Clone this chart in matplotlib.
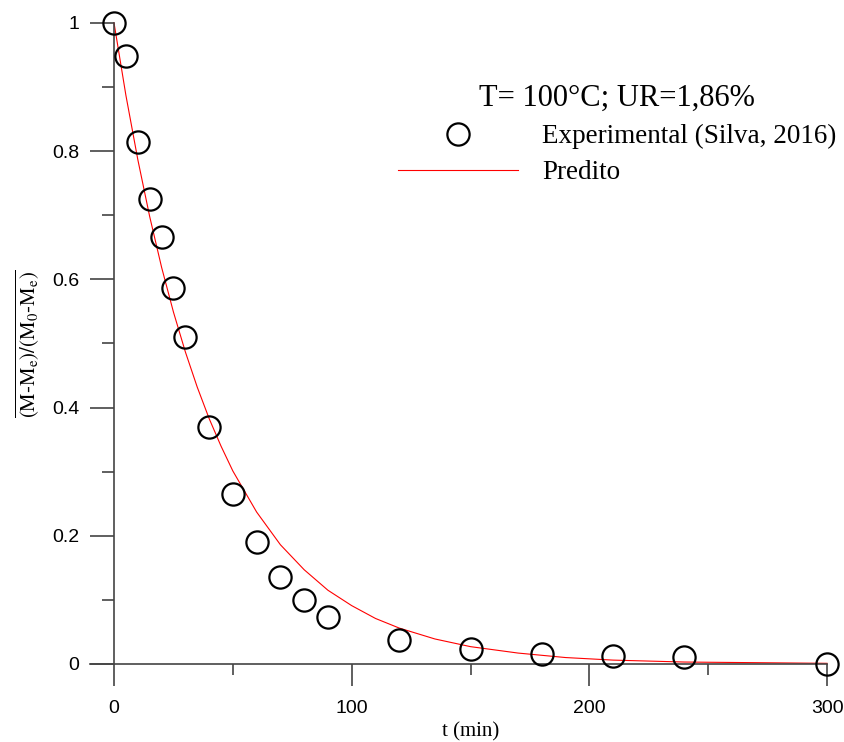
import matplotlib
matplotlib.use("Agg")
import matplotlib.pyplot as plt
from matplotlib.ticker import MultipleLocator

# experimental points (Silva, 2016)
t_exp = [0, 5, 10, 15, 20, 25, 30, 40, 50, 60, 70, 80, 90, 120, 150, 180, 210, 240, 300]
y_exp = [1.0, 0.948, 0.814, 0.725, 0.666, 0.587, 0.510, 0.370, 0.265, 0.190,
         0.136, 0.100, 0.073, 0.037, 0.023, 0.016, 0.012, 0.011, 0.0]

# predicted curve
t_pred = [0, 5, 10, 15, 20, 25, 30, 35, 40, 45, 50, 60, 70, 80, 90, 100, 110,
          120, 135, 150, 170, 190, 210, 240, 270, 300]
y_pred = [1.0, 0.887, 0.787, 0.698, 0.619, 0.549, 0.487, 0.432, 0.383, 0.340,
          0.301, 0.237, 0.186, 0.147, 0.115, 0.091, 0.071, 0.056, 0.039, 0.027,
          0.017, 0.010, 0.006, 0.003, 0.002, 0.001]

x_major = [0, 100, 200, 300]
y_major = [0, 0.2, 0.4, 0.6, 0.8, 1.0]

plt.rcParams['mathtext.fontset'] = 'stix'
serif = 'Liberation Serif'
sans = 'Liberation Sans'
axis_col = '#444444'

fig = plt.figure(figsize=(8.45, 7.42), dpi=100)
ax = fig.add_axes([0.1012, 0.0879, 0.8916, 0.8984])

pred_line, = ax.plot(t_pred, y_pred, color='red', lw=0.8, zorder=2)
exp_pts, = ax.plot(t_exp, y_exp, 'o', ms=16, mfc='none', mec='black', mew=1.6,
                   clip_on=False, zorder=3)

ax.set_xlim(-12, 305)
ax.set_ylim(-0.02, 1.02)

for s in ['top', 'right']:
    ax.spines[s].set_visible(False)
ax.spines['left'].set_position(('data', 0))
ax.spines['bottom'].set_position(('data', 0))
ax.spines['left'].set_bounds(0, 1)
ax.spines['bottom'].set_bounds(-10, 300)
for s in ['left', 'bottom']:
    ax.spines[s].set_color(axis_col)
    ax.spines[s].set_linewidth(1.2)

ax.set_xticks(x_major)
ax.set_yticks(y_major)
ax.set_yticklabels(['0', '0.2', '0.4', '0.6', '0.8', '1'])
ax.xaxis.set_minor_locator(MultipleLocator(50))
ax.yaxis.set_minor_locator(MultipleLocator(0.1))
ax.tick_params(axis='x', which='major', direction='out', length=16, width=1.2,
               color=axis_col, pad=10, labelsize=14)
ax.tick_params(axis='x', which='minor', direction='out', length=8, width=1.2, color=axis_col)
ax.tick_params(axis='y', which='major', direction='out', length=17, width=1.2,
               color=axis_col, pad=8, labelsize=14)
ax.tick_params(axis='y', which='minor', direction='out', length=8.5, width=1.2, color=axis_col)
for lab in ax.get_xticklabels() + ax.get_yticklabels():
    lab.set_fontfamily(sans)

ax.set_xlabel('t (min)', fontfamily=serif, fontsize=15)
ax.xaxis.set_label_coords((150 + 12) / 317, -0.068)
ax.set_ylabel(r'$\overline{\mathrm{(M\text{-}M_e)/(M_0\text{-}M_e)}}$', fontsize=15)
ax.yaxis.set_label_coords(-0.058, 0.5)

fs_leg = 19.5
em = fs_leg * 100 / 72
leg = ax.legend([exp_pts, pred_line], ['Experimental (Silva, 2016)', 'Predito'],
                loc='upper left', bbox_to_anchor=(398 / 845, 1 - 84 / 742),
                bbox_transform=fig.transFigure, frameon=False,
                title='T= 100°C; UR=1,86%', handlelength=120 / em,
                handletextpad=24 / em, labelspacing=0.41, borderpad=0,
                borderaxespad=0, prop={'family': serif, 'size': fs_leg})
leg.get_title().set_fontfamily(serif)
leg.get_title().set_fontsize(22)

fig.savefig('out.png', dpi=100)
